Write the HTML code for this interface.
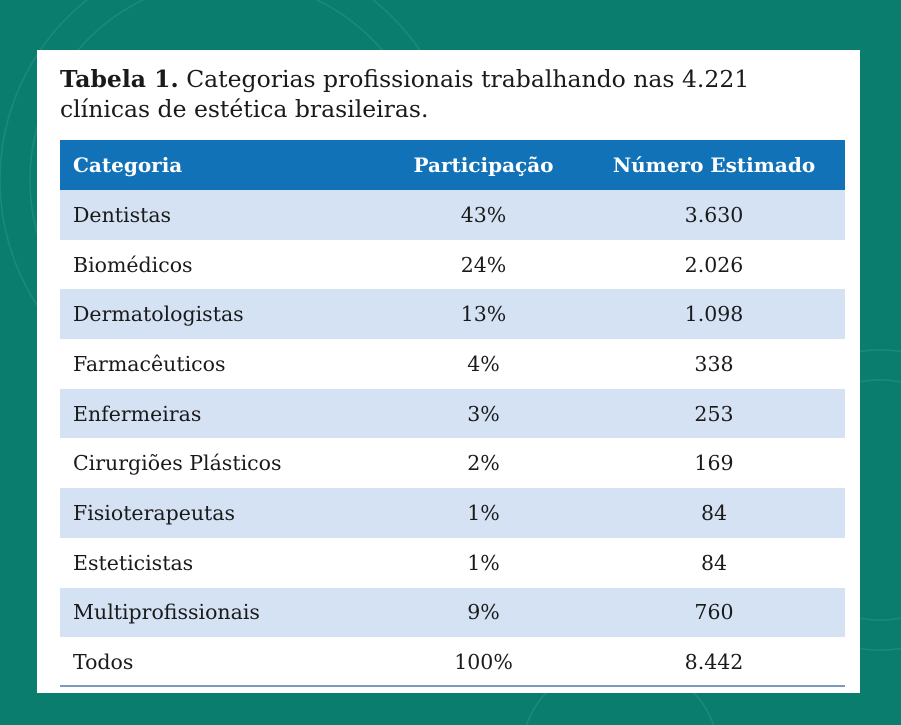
<!DOCTYPE html>
<html><head><meta charset="utf-8"><style>
html,body{margin:0;width:901px;height:725px;overflow:hidden}
body{background:#0b7d6e;position:relative;font-family:"DejaVu Serif","Liberation Serif",serif}
.card{position:absolute;left:37px;top:50px;width:823px;height:643px;background:#fff}
.title{position:absolute;left:60px;top:64px;width:800px;font-size:23.5px;line-height:30px;color:#1a1a1a;white-space:nowrap}
table{position:absolute;left:60px;top:140px;width:785px;border-collapse:collapse;table-layout:fixed;font-size:20.5px;color:#1a1a1a}
th{background:#1172b8;color:#fff;height:50px;font-weight:bold;font-size:20px;padding:0;white-space:nowrap}
td{height:49.7px;padding:0;line-height:24px;white-space:nowrap}
tr.s td{background:#d4e2f4}
td.c,th.c{text-align:left;padding-left:13px}
td.p,th.p{text-align:center}
td.n,th.n{text-align:center}
.bl{position:absolute;left:60px;top:685px;width:785px;height:2px;background:#7a9bbd}
</style></head><body>
<svg width="901" height="725" style="position:absolute;left:0;top:0" fill="none" stroke="#2a9a88" stroke-width="1.5" opacity="0.5">
<circle cx="230" cy="180" r="200"/><circle cx="230" cy="180" r="230"/><circle cx="880" cy="500" r="120"/><circle cx="880" cy="500" r="150"/><circle cx="620" cy="760" r="100"/>
</svg>
<div class="card"></div>
<div class="title"><b>Tabela 1.</b> Categorias profissionais trabalhando nas 4.221<br>clínicas de estética brasileiras.</div>
<table>
<colgroup><col style="width:324px"><col style="width:199px"><col style="width:262px"></colgroup>
<tr><th class="c">Categoria</th><th class="p">Participação</th><th class="n">Número Estimado</th></tr>
<tr class="s"><td class="c">Dentistas</td><td class="p">43%</td><td class="n">3.630</td></tr>
<tr><td class="c">Biomédicos</td><td class="p">24%</td><td class="n">2.026</td></tr>
<tr class="s"><td class="c">Dermatologistas</td><td class="p">13%</td><td class="n">1.098</td></tr>
<tr><td class="c">Farmacêuticos</td><td class="p">4%</td><td class="n">338</td></tr>
<tr class="s"><td class="c">Enfermeiras</td><td class="p">3%</td><td class="n">253</td></tr>
<tr><td class="c">Cirurgiões Plásticos</td><td class="p">2%</td><td class="n">169</td></tr>
<tr class="s"><td class="c">Fisioterapeutas</td><td class="p">1%</td><td class="n">84</td></tr>
<tr><td class="c">Esteticistas</td><td class="p">1%</td><td class="n">84</td></tr>
<tr class="s"><td class="c">Multiprofissionais</td><td class="p">9%</td><td class="n">760</td></tr>
<tr><td class="c">Todos</td><td class="p">100%</td><td class="n">8.442</td></tr>
</table>
<div class="bl"></div>
</body></html>
